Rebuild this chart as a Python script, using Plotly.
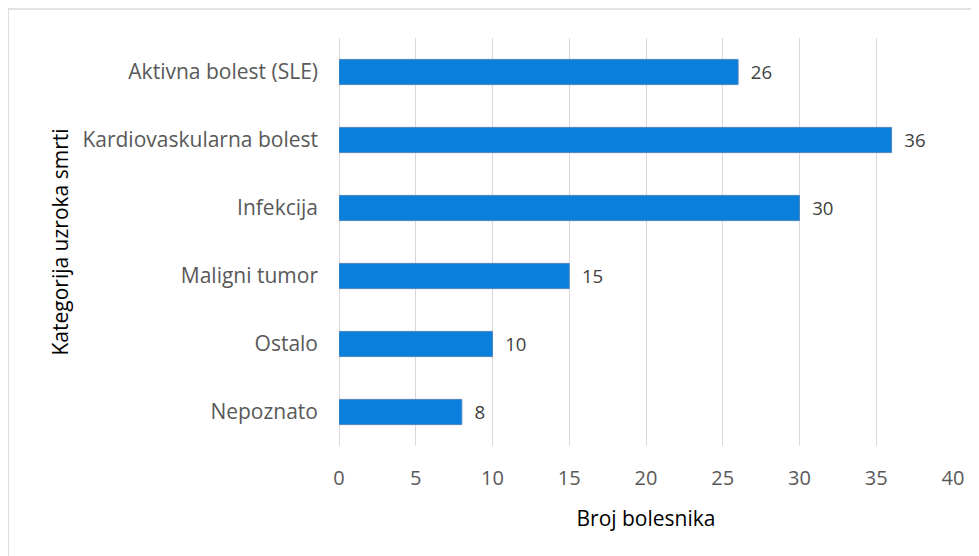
import plotly.graph_objects as go

categories = ['Aktivna bolest (SLE)', 'Kardiovaskularna bolest', 'Infekcija',
              'Maligni tumor', 'Ostalo', 'Nepoznato']
patients = [26, 36, 30, 15, 10, 8]
x_ticks = [0, 5, 10, 15, 20, 25, 30, 35, 40]

font_name = "Open Sans"

fig = go.Figure(go.Bar(
    x=patients,
    y=categories,
    orientation='h',
    marker=dict(color='#0A7FDB', line=dict(color='#4F86C0', width=1)),
    texttemplate='  %{x}',
    textposition='outside',
    textfont=dict(family=font_name, size=20, color='#404040'),
    cliponaxis=False,
    width=0.37,
))

# page body adds an 8px offset, margins compensate for it
fig.update_layout(
    width=979, height=556,
    margin=dict(l=331, r=34, t=30, b=118),
    paper_bgcolor='white',
    plot_bgcolor='white',
    showlegend=False,
    font=dict(family=font_name, size=20, color='#595959'),
)

fig.update_xaxes(
    range=[0, 40],
    tickvals=x_ticks,
    automargin=False,
    showgrid=True, gridcolor='#D9D9D9', gridwidth=1,
    zeroline=True, zerolinecolor='#D9D9D9', zerolinewidth=1,
    showline=False,
    tickfont=dict(size=20, color='#595959'),
    ticklabelstandoff=18,
    title=dict(text='Broj bolesnika', font=dict(size=21, color='black'), standoff=21),
)

fig.update_yaxes(
    categoryorder='array',
    categoryarray=categories[::-1],
    automargin=False,
    showgrid=False,
    showline=False,
    ticks='',
    ticklabelstandoff=20,
    tickfont=dict(size=21, color='#595959'),
    title=dict(text='Kategorija uzroka smrti', font=dict(size=21, color='black'), standoff=8),
)

# chart border (only top/left edges visible in frame)
fig.add_shape(type='rect', xref='paper', yref='paper',
              x0=-0.539, x1=1.2, y0=-0.4, y1=1.071,
              line=dict(color='#D9D9D9', width=1.5), fillcolor='rgba(0,0,0,0)', layer='below')

fig.write_html("out.html")
